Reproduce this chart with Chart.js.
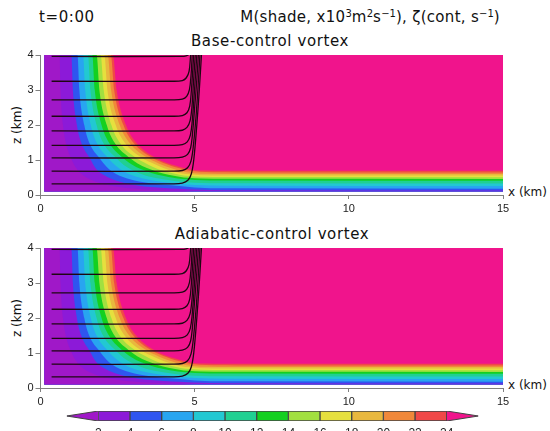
<!DOCTYPE html>
<html><head><meta charset="utf-8">
<script src="https://cdn.jsdelivr.net/npm/chart.js@4.4.1/dist/chart.umd.min.js"></script>
<style>
body{margin:0;width:550px;height:431px;overflow:hidden;background:#fff;position:relative;font-family:"DejaVu Sans",sans-serif;color:#111}
.t{position:absolute;font-size:15px;line-height:16px;white-space:nowrap;letter-spacing:0.6px}
.s{position:absolute;font-size:12px;line-height:14px;white-space:nowrap}
sup{font-size:10px;line-height:0;vertical-align:5px;letter-spacing:0}
canvas{position:absolute;left:0}
</style></head><body>
<div class="t" style="left:39px;top:9px">t=0:00</div>
<div class="t" style="right:50px;top:9px;letter-spacing:0.3px">M(shade, x10<sup>3</sup>m<sup>2</sup>s<sup>−1</sup>), ζ(cont, s<sup>−1</sup>)</div>
<div class="t" style="left:120px;width:300px;text-align:center;top:33px">Base-control vortex</div>
<div class="t" style="left:122px;width:300px;text-align:center;top:226px">Adiabatic-control vortex</div>
<div class="s" style="left:-3px;top:118px;width:40px;text-align:center;transform:rotate(-90deg)">z (km)</div>
<div class="s" style="left:-3px;top:311px;width:40px;text-align:center;transform:rotate(-90deg)">z (km)</div>
<div class="s" style="left:508px;top:185px">x (km)</div>
<div class="s" style="left:508px;top:378px">x (km)</div>
<canvas id="p1" width="550" height="185" style="top:40px"></canvas>
<canvas id="p2" width="550" height="185" style="top:233px"></canvas>
<canvas id="cb" width="550" height="60" style="top:395px"></canvas>
<script>
// ---- data ----
const xTicks=[0,5,10,15];
const zTicks=[0,1,2,3,4];
const levels=[2,4,6,8,10,12,14,16,18,20,22,24];
const cbLabels=levels.map(String);

// M contour boundaries (x km, z km); region left/below each curve has M < level
const mLev2=[[0.12,4],[0.62,4],[0.65,3],[0.73,2],[0.82,1.5],[0.99,1.05],[1.15,0.78],[1.4,0.55],[1.8,0.38],[2.4,0.25],[3.2,0.17],[4.2,0.13],[5.0,0.1]];
const mLev4=[[0.12,4],[1.0,4],[1.05,3],[1.18,2],[1.32,1.5],[1.6,1.05],[1.8,0.75],[2.1,0.55],[2.5,0.4],[3.15,0.27],[4.0,0.2],[4.5,0.18],[5.0,0.155],[6.0,0.135],[15,0.13]];
const mLev6=[[0.12,4],[1.2,4],[1.26,3],[1.42,2],[1.58,1.5],[1.92,1.05],[2.15,0.8],[2.45,0.6],[2.9,0.45],[3.5,0.34],[4.0,0.29],[4.5,0.26],[5.0,0.215],[6.0,0.19],[15,0.18]];
const mLev8=[[0.12,4],[1.38,4],[1.45,3],[1.63,2],[1.82,1.5],[2.2,1.05],[2.45,0.83],[2.75,0.65],[3.2,0.5],[3.7,0.41],[4.1,0.36],[4.5,0.32],[5.0,0.285],[6.0,0.265],[15,0.26]];
const mLev10=[[0.12,4],[1.54,4],[1.62,3],[1.82,2],[2.03,1.5],[2.46,1.05],[2.7,0.86],[3.0,0.7],[3.4,0.56],[3.85,0.47],[4.2,0.42],[4.5,0.385],[5.0,0.35],[6.0,0.335],[15,0.33]];
const mLev12=[[0.12,4],[1.68,4],[1.76,3],[1.98,2],[2.22,1.5],[2.69,1.05],[2.95,0.88],[3.25,0.74],[3.6,0.63],[4.0,0.54],[4.3,0.49],[4.6,0.455],[5.0,0.43],[6.0,0.415],[15,0.41]];
const mLev14=[[0.12,4],[1.82,4],[1.91,3],[2.15,2],[2.4,1.5],[2.91,1.05],[3.15,0.9],[3.45,0.77],[3.8,0.66],[4.15,0.58],[4.5,0.525],[4.8,0.49],[5.2,0.47],[6.0,0.462],[15,0.46]];
const mLev16=[[0.12,4],[1.95,4],[2.05,3],[2.3,2],[2.57,1.5],[3.12,1.05],[3.38,0.92],[3.65,0.8],[3.95,0.7],[4.25,0.63],[4.55,0.575],[4.85,0.54],[5.2,0.52],[6.0,0.512],[15,0.51]];
const mLev18=[[0.12,4],[2.07,4],[2.17,3],[2.44,2],[2.73,1.5],[3.31,1.05],[3.55,0.94],[3.8,0.84],[4.05,0.75],[4.3,0.68],[4.55,0.625],[4.85,0.59],[5.2,0.567],[6.0,0.557],[15,0.555]];
const mLev20=[[0.12,4],[2.18,4],[2.29,3],[2.57,2],[2.88,1.5],[3.49,1.05],[3.72,0.95],[3.95,0.86],[4.2,0.78],[4.45,0.71],[4.7,0.66],[5.0,0.625],[5.4,0.607],[6.2,0.601],[15,0.6]];
const mLev22=[[0.12,4],[2.28,4],[2.39,3],[2.69,2],[3.01,1.5],[3.65,1.05],[3.87,0.96],[4.1,0.88],[4.35,0.8],[4.6,0.74],[4.85,0.69],[5.15,0.662],[5.6,0.65],[6.4,0.646],[15,0.645]];
const mLev24=[[0.12,4],[2.35,4],[2.47,3],[2.77,2],[3.1,1.5],[3.76,1.05],[4.0,0.95],[4.25,0.87],[4.5,0.81],[4.75,0.75],[5.0,0.71],[5.35,0.697],[6.0,0.692],[15,0.69]];
const mBounds=[mLev2,mLev4,mLev6,mLev8,mLev10,mLev12,mLev14,mLev16,mLev18,mLev20,mLev22,mLev24];
const mDomain=[[0.12,4],[15,4]];

// vorticity contours (x km, z km)
const zeta1=[[0.36,0.32],[4.3,0.32],[4.6,0.34],[4.78,0.42],[4.89,0.6],[4.97,1.0],[5.07,2.0],[5.15,3.0],[5.22,4.0]];
const zeta2=[[0.36,0.68],[4.3,0.68],[4.6,0.7],[4.77,0.78],[4.88,0.97],[4.95,1.35],[5.04,2.2],[5.11,3.1],[5.17,4.0]];
const zeta3=[[0.36,1.06],[4.3,1.06],[4.6,1.08],[4.77,1.16],[4.87,1.35],[4.93,1.75],[5.0,2.5],[5.07,3.3],[5.12,4.0]];
const zeta4=[[0.36,1.42],[4.3,1.42],[4.6,1.44],[4.76,1.52],[4.86,1.71],[4.92,2.1],[4.98,2.8],[5.07,4.0]];
const zeta5=[[0.36,1.83],[4.3,1.83],[4.6,1.85],[4.75,1.93],[4.85,2.12],[4.91,2.5],[4.96,3.2],[5.02,4.0]];
const zeta6=[[0.36,2.25],[4.3,2.25],[4.6,2.27],[4.75,2.35],[4.84,2.54],[4.89,2.95],[4.97,4.0]];
const zeta7=[[0.36,2.72],[4.3,2.72],[4.6,2.74],[4.74,2.82],[4.83,3.01],[4.88,3.4],[4.92,4.0]];
const zeta8=[[0.36,3.25],[4.3,3.25],[4.6,3.27],[4.73,3.35],[4.82,3.54],[4.87,4.0]];
const zeta9=[[0.36,3.96],[4.6,3.96],[4.74,3.98],[4.8,4.0]];
const zetaLines=[zeta1,zeta2,zeta3,zeta4,zeta5,zeta6,zeta7,zeta8,zeta9];

// ---- styles ----
const underColor='#a018c8';
const bandColors=['#8c1ad8','#2f55f0','#28a5f0','#22c8d2','#20d092','#14d020','#a2e040','#e6e03e','#e8b83e','#f0883a','#f04848'];
const overColor='#f0148c';
const shadeColors=[underColor].concat(bandColors);
const axisColor='#808080';
const pts=a=>a.map(p=>({x:p[0],y:p[1]}));

function panel(id){
  const ds=[];
  zetaLines.forEach(l=>ds.push({data:pts(l),borderColor:'#1e0612',borderWidth:1.3,pointRadius:0,tension:0.35,fill:false,order:0}));
  mBounds.forEach((b,i)=>ds.push({data:pts(b),borderWidth:0,backgroundColor:shadeColors[i],fill:{value:0.1},pointRadius:0,cubicInterpolationMode:'monotone',order:i+1}));
  ds.push({data:pts(mDomain),borderWidth:0,backgroundColor:overColor,fill:{value:0.1},pointRadius:0,order:30});
  new Chart(document.getElementById(id),{type:'line',data:{datasets:ds},options:{
    responsive:false,animation:false,devicePixelRatio:1,
    layout:{padding:{left:0,right:47,top:15,bottom:5}},
    plugins:{legend:{display:false},tooltip:{enabled:false}},
    scales:{
      x:{type:'linear',min:0,max:15,afterBuildTicks:s=>{s.ticks=xTicks.map(v=>({value:v}))},afterFit:s=>{s.height=25},
        grid:{display:true,drawOnChartArea:false,drawTicks:true,tickLength:4,color:axisColor},
        border:{display:true,color:axisColor,width:1},
        ticks:{font:{family:'Liberation Sans',size:11},color:'#222',padding:3,maxRotation:0}},
      y:{type:'linear',min:0,max:4,afterBuildTicks:s=>{s.ticks=zTicks.map(v=>({value:v}))},afterFit:s=>{s.width=40.5},
        grid:{display:true,drawOnChartArea:false,drawTicks:true,tickLength:5,color:axisColor},
        border:{display:true,color:axisColor,width:1},
        ticks:{font:{family:'Liberation Sans',size:11},color:'#222',padding:2}}
    }}});
}
panel('p1');panel('p2');

// colorbar
const boxes=bandColors.map((c,i)=>({x:i+1.5,y:[0,1]}));
new Chart(document.getElementById('cb'),{type:'bar',data:{datasets:[
  {type:'bar',data:boxes,backgroundColor:bandColors,borderColor:'#444',borderWidth:1,borderSkipped:false,barPercentage:1,categoryPercentage:1,order:1},
  {type:'line',data:[{x:0,y:0.5},{x:1,y:1}],backgroundColor:underColor,borderColor:'#444',borderWidth:1,pointRadius:0,fill:{value:0.5},order:0},
  {type:'line',data:[{x:0,y:0.5},{x:1,y:0}],backgroundColor:underColor,borderColor:'#444',borderWidth:1,pointRadius:0,fill:{value:0.5},order:0},
  {type:'line',data:[{x:12,y:1},{x:13,y:0.5}],backgroundColor:overColor,borderColor:'#444',borderWidth:1,pointRadius:0,fill:{value:0.5},order:0},
  {type:'line',data:[{x:12,y:0},{x:13,y:0.5}],backgroundColor:overColor,borderColor:'#444',borderWidth:1,pointRadius:0,fill:{value:0.5},order:0}
]},options:{
  responsive:false,animation:false,devicePixelRatio:1,
  layout:{padding:{left:66.7,right:71.6,top:16,bottom:0}},
  plugins:{legend:{display:false},tooltip:{enabled:false}},
  scales:{
    x:{type:'linear',min:0,max:13,offset:false,afterBuildTicks:s=>{s.ticks=levels.map((v,i)=>({value:i+1}))},afterFit:s=>{s.height=34},
      grid:{display:false,drawTicks:false,tickLength:0},border:{display:false},
      ticks:{callback:(v)=>cbLabels[v-1],font:{family:'Liberation Sans',size:12},color:'#222',padding:5,maxRotation:0,autoSkip:false}},
    y:{type:'linear',min:0,max:1,display:false}
  }}});
</script>
</body></html>
